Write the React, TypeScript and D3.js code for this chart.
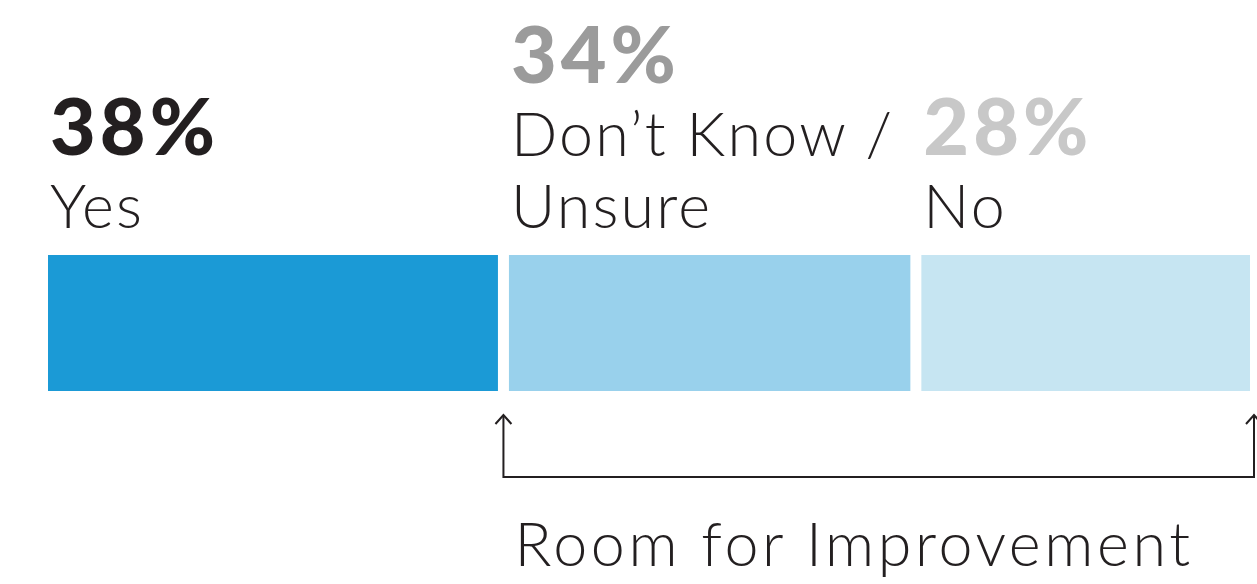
import React from "react";
import * as d3 from "d3";

const categories = ["Yes", "Don't Know / Unsure", "No"];
const values = [38, 34, 28];
const pctLabels = ["38%", "34%", "28%"];
const labelLines = [["Yes"], ["Don’t Know /", "Unsure"], ["No"]];
const bracketLabel = "Room for Improvement";

const W = 1257;
const H = 584;
const barLeft = 48;
const scaleRight = 1261;
const gap = 11;
const barTop = 255;
const barBottom = 391;

const barColors = ["#1b9ad6", "#99d1ec", "#c6e5f2"];
const pctColors = ["#231f20", "#9b9b9b", "#c8c8c8"];
const ink = "#231f20";

export default function App() {
  const x = d3.scaleLinear().domain([0, 100]).range([barLeft, scaleRight]);
  const stacked = values.reduce<number[]>((acc, v, i) => {
    acc.push((i === 0 ? 0 : acc[i - 1]) + v);
    return acc;
  }, []);
  const starts = stacked.map((s, i) => s - values[i]);
  const y = d3.scaleBand().domain(["bar"]).range([barTop, barBottom]).padding(0);

  const lastBaseline = 228;
  const lineH = 72;
  const pctGap = 73;

  const bracketLeft = x(starts[1]) - gap / 2;
  const bracketRight = 1254;
  const bracketY = 477;
  const arrowTop = 415;

  const light = "Lato, 'Open Sans', sans-serif";

  const arrow = (cx: number) =>
    `M${cx - 8},${arrowTop + 9} L${cx},${arrowTop} L${cx + 8},${arrowTop + 9}`;

  return (
    <svg width={W} height={H} style={{ position: "absolute", left: 0, top: 0, background: "#fff" }}>
      {values.map((v, i) => (
        <rect
          key={categories[i]}
          x={x(starts[i])}
          y={y("bar")}
          width={Math.min(x(stacked[i]) - gap, 1255) - x(starts[i])}
          height={y.bandwidth()}
          fill={barColors[i]}
        />
      ))}
      {values.map((v, i) => {
        const lines = labelLines[i];
        const tx = x(starts[i]) + 2;
        const firstBaseline = lastBaseline - (lines.length - 1) * lineH;
        return (
          <g key={"lab" + i}>
            <text
              x={tx}
              y={firstBaseline - pctGap}
              fill={pctColors[i]}
              style={{ font: `900 79px ${light}`, letterSpacing: "4px" }}
            >
              {pctLabels[i]}
            </text>
            {lines.map((ln, j) => (
              <text
                key={j}
                x={tx}
                y={firstBaseline + j * lineH}
                fill={ink}
                style={{ font: `300 61px ${light}`, letterSpacing: "2.2px" }}
              >
                {ln}
              </text>
            ))}
          </g>
        );
      })}
      <path
        d={`M${bracketLeft},${arrowTop} L${bracketLeft},${bracketY} L${bracketRight},${bracketY} L${bracketRight},${arrowTop}`}
        fill="none"
        stroke={ink}
        strokeWidth={2}
      />
      <path d={arrow(bracketLeft)} fill="none" stroke={ink} strokeWidth={2} />
      <path d={arrow(bracketRight)} fill="none" stroke={ink} strokeWidth={2} />
      <text
        x={bracketLeft + 11}
        y={566}
        fill={ink}
        style={{ font: `300 61px ${light}`, letterSpacing: "3.6px" }}
      >
        {bracketLabel}
      </text>
    </svg>
  );
}
